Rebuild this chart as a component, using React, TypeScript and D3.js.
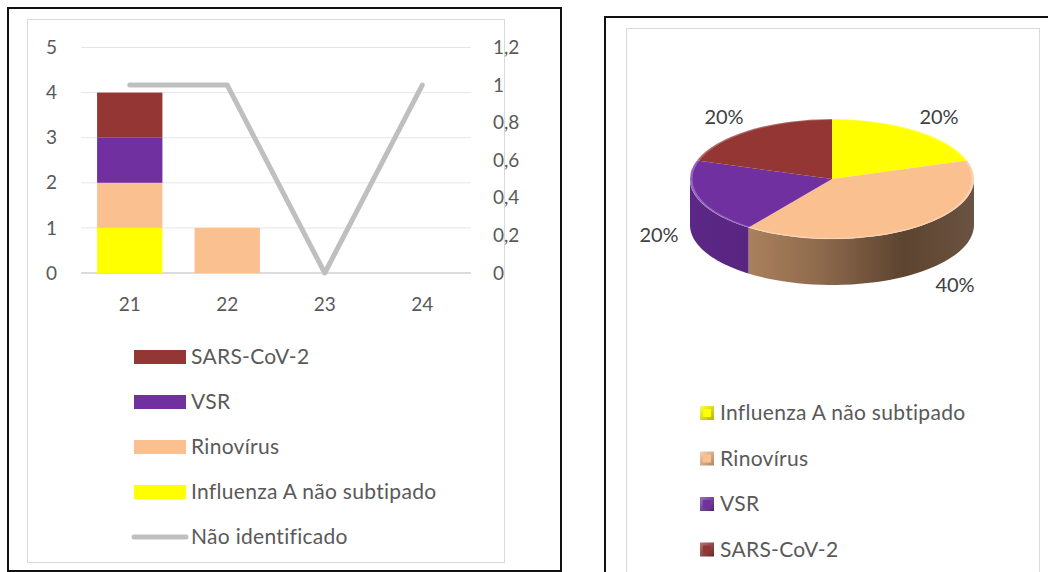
import React from 'react';
import * as d3 from 'd3';

// semanas epidemiológicas
const weeks = ['21', '22', '23', '24'];
const influenzaA = [1, 0, 0, 0];
const rinovirus = [1, 1, 0, 0];
const vsr = [1, 0, 0, 0];
const sarsCov2 = [1, 0, 0, 0];
const naoIdentificado = [1, 1, 0, 1];

const leftTicks = [0, 1, 2, 3, 4, 5];
const rightTicks = [0, 0.2, 0.4, 0.6, 0.8, 1, 1.2];

// pizza
const pieLabels = ['Influenza A não subtipado', 'Rinovírus', 'VSR', 'SARS-CoV-2'];
const pieValues = [1, 2, 1, 1];

const seriesNames = ['Influenza A não subtipado', 'Rinovírus', 'VSR', 'SARS-CoV-2'];
const colors: Record<string, string> = {
  'Influenza A não subtipado': '#FFFF00',
  'Rinovírus': '#FAC090',
  'VSR': '#7030A0',
  'SARS-CoV-2': '#943634',
};
const sideColors: Record<string, [string, string]> = {
  'Influenza A não subtipado': ['#c8c800', '#8a8a00'],
  'Rinovírus': ['#c1926a', '#5d4430'],
  'VSR': ['#5c2786', '#4a1d6a'],
  'SARS-CoV-2': ['#7a2a28', '#5a1e1c'],
};
const lineColor = '#BFBFBF';
const font = 'Lato, "Open Sans", sans-serif';
const textColor = '#595959';

const App = () => {
  // ---- bar + line chart ----
  const x = d3.scaleBand().domain(weeks).range([81, 471]).paddingInner(0.33).paddingOuter(0.165);
  const yL = d3.scaleLinear().domain([0, 5]).range([273, 47.5]);
  const yR = d3.scaleLinear().domain([0, 1.2]).range([273, 47.5]);

  const table = weeks.map((w, i) => ({
    week: w,
    'Influenza A não subtipado': influenzaA[i],
    'Rinovírus': rinovirus[i],
    'VSR': vsr[i],
    'SARS-CoV-2': sarsCov2[i],
  }));
  const stacked = d3.stack<any>().keys(seriesNames)(table);

  const line = d3.line<number>()
    .x((_, i) => (x(weeks[i]) as number) + x.bandwidth() / 2)
    .y(d => yR(d));

  const legendLeft = [...seriesNames].reverse();

  // ---- 3D pie ----
  const cx = 832, cy = 179, rx = 142, ry = 60, depth = 46;
  const arcs = d3.pie<number>().sort(null).value(d => d)(pieValues);
  const arcGen = d3.arc<d3.PieArcDatum<number>>().innerRadius(0).outerRadius(rx);
  const ept = (a: number, dy = 0) => [cx + rx * Math.sin(a), cy - ry * Math.cos(a) + dy];
  const sidePath = (a0: number, a1: number) => {
    const s = Math.max(a0, Math.PI / 2);
    const e = Math.min(a1, Math.PI * 1.5);
    if (e <= s) return null;
    const n = 40;
    const p = d3.path();
    for (let k = 0; k <= n; k++) {
      const [px, py] = ept(s + (e - s) * k / n);
      if (k === 0) p.moveTo(px, py); else p.lineTo(px, py);
    }
    for (let k = n; k >= 0; k--) {
      const [px, py] = ept(s + (e - s) * k / n, depth);
      p.lineTo(px, py);
    }
    p.closePath();
    return p.toString();
  };
  const pct = d3.format('.0%');
  const total = d3.sum(pieValues);
  const labelPos = [[939, 117], [955, 285], [659, 235], [724, 117]];

  const legendFont = { fontSize: 21, letterSpacing: 0.3 };

  return (
    <svg width={1048} height={572} style={{ position: 'absolute', left: 0, top: 0 }} fontFamily={font}>
      <defs>
        {seriesNames.map((s, i) => (
          <linearGradient key={s} id={`side${i}`} x1={cx - rx} x2={cx + rx} y1={0} y2={0} gradientUnits="userSpaceOnUse">
            <stop offset="0" stopColor={sideColors[s][0]} />
            <stop offset="0.45" stopColor={d3.interpolateRgb(sideColors[s][0], sideColors[s][1])(0.5)} />
            <stop offset="0.75" stopColor={sideColors[s][1]} />
            <stop offset="1" stopColor={d3.interpolateRgb(sideColors[s][1], '#ffffff')(0.08)} />
          </linearGradient>
        ))}
        {seriesNames.map((s, i) => (
          <linearGradient key={s} id={`sw${i}`} x1="0" x2="1" y1="0" y2="1">
            <stop offset="0" stopColor={d3.interpolateRgb(colors[s], '#ffffff')(0.3)} />
            <stop offset="1" stopColor={d3.interpolateRgb(colors[s], '#000000')(0.3)} />
          </linearGradient>
        ))}
      </defs>
      <rect width={1048} height={572} fill="#fff" />

      {/* left panel frames */}
      <rect x={8} y={8} width={553} height={563} fill="none" stroke="#111" strokeWidth={2} />
      <rect x={27.5} y={19.5} width={477} height={543} fill="none" stroke="#d9d9d9" strokeWidth={1} />

      {/* gridlines */}
      {leftTicks.map(t => (
        <line key={t} x1={81} x2={471} y1={yL(t)} y2={yL(t)} stroke={t === 0 ? '#d0d0d0' : '#e6e6e6'} strokeWidth={t === 0 ? 1.5 : 1} />
      ))}
      {leftTicks.map(t => (
        <text key={t} x={57} y={yL(t)} dy="0.35em" textAnchor="end" fontSize={19} fill={textColor}>{t}</text>
      ))}
      {rightTicks.map(t => (
        <text key={t} x={493} y={yR(t)} dy="0.35em" fontSize={19} fill={textColor}>{String(+t.toFixed(1)).replace('.', ',')}</text>
      ))}
      {weeks.map(w => (
        <text key={w} x={(x(w) as number) + x.bandwidth() / 2} y={304} dy="0.35em" textAnchor="middle" fontSize={19} fill={textColor}>{w}</text>
      ))}

      {/* stacked bars */}
      {stacked.map(layer => (
        <g key={layer.key} fill={colors[layer.key]}>
          {layer.map((d, i) => d[1] - d[0] > 0 ? (
            <rect key={i} x={x(weeks[i])} width={x.bandwidth()} y={yL(d[1])} height={yL(d[0]) - yL(d[1])} />
          ) : null)}
        </g>
      ))}

      {/* line on secondary axis */}
      <path d={line(naoIdentificado) || ''} fill="none" stroke={lineColor} strokeWidth={5} strokeLinecap="round" strokeLinejoin="round" />

      {/* left legend */}
      {legendLeft.map((s, i) => (
        <g key={s} transform={`translate(0,${357 + i * 45})`}>
          <rect x={134} y={-7} width={52} height={14} fill={colors[s]} />
          <text x={191} y={0} dy="0.35em" {...legendFont} fill={textColor}>{s}</text>
        </g>
      ))}
      <g transform={`translate(0,${357 + 4 * 45})`}>
        <line x1={134} x2={186} y1={0} y2={0} stroke={lineColor} strokeWidth={5} strokeLinecap="round" />
        <text x={191} y={0} dy="0.35em" {...legendFont} fill={textColor}>Não identificado</text>
      </g>

      {/* right panel frames */}
      <rect x={605} y={17} width={460} height={570} fill="none" stroke="#111" strokeWidth={2} />
      <rect x={626.5} y={28.5} width={413} height={560} fill="none" stroke="#d9d9d9" strokeWidth={1} />

      {/* pie sides */}
      {arcs.map((a, i) => {
        const d = sidePath(a.startAngle, a.endAngle);
        return d ? <path key={i} d={d} fill={`url(#side${i})`} /> : null;
      })}
      {/* pie top */}
      <g transform={`translate(${cx},${cy}) scale(1,${ry / rx})`}>
        {arcs.map((a, i) => (
          <path key={i} d={arcGen(a) || ''} fill={colors[pieLabels[i]]} />
        ))}
        <ellipse cx={0} cy={0} rx={rx - 1} ry={rx - 1} fill="none" stroke="#ffffff" strokeOpacity={0.25} strokeWidth={3} />
      </g>
      {arcs.map((a, i) => (
        <text key={i} x={labelPos[i][0]} y={labelPos[i][1]} dy="0.35em" textAnchor="middle" fontSize={20} fill="#404040">
          {pct(a.value / total)}
        </text>
      ))}

      {/* pie legend */}
      {pieLabels.map((s, i) => (
        <g key={s} transform={`translate(0,${413 + i * 45.5})`}>
          <rect x={700} y={-7} width={14} height={14} fill={`url(#sw${i})`} />
          <rect x={703} y={-4} width={8} height={8} fill={colors[s]} />
          <text x={720} y={0} dy="0.35em" {...legendFont} fill={textColor}>{s}</text>
        </g>
      ))}
    </svg>
  );
};

export default App;
